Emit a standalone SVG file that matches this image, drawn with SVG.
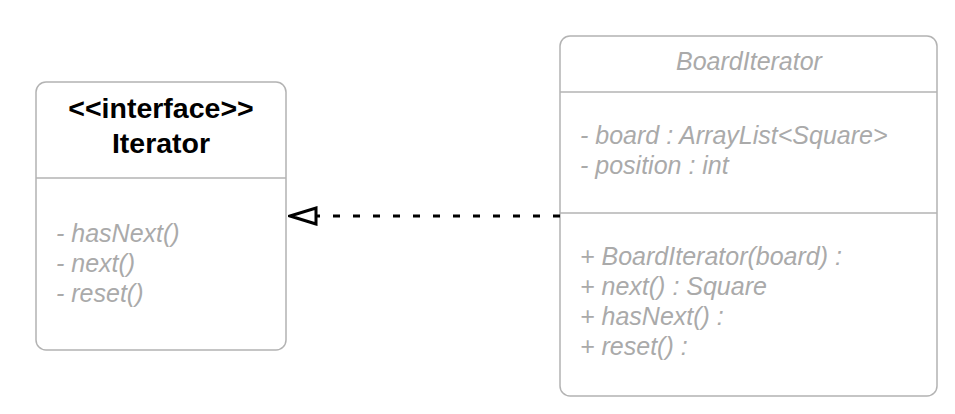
<svg xmlns="http://www.w3.org/2000/svg" width="955" height="414" viewBox="0 0 955 414">
<defs>
<style>
.box{fill:#ffffff;stroke:#b3b3b3;stroke-width:1.5}
.div{stroke:#b3b3b3;stroke-width:1.5}
.title{font-family:"Liberation Sans",Arial,sans-serif;font-size:28.5px;font-weight:bold;fill:#000000;text-anchor:middle}
.mem{font-family:"Liberation Sans",Arial,sans-serif;font-size:25px;font-style:italic;fill:#aaaaaa}
.ctitle{font-family:"Liberation Sans",Arial,sans-serif;font-size:25px;font-style:italic;fill:#aaaaaa;text-anchor:middle}
.dep{fill:none;stroke:#000000;stroke-width:3;stroke-dasharray:7 13}
</style>
<marker id="tri" viewBox="0 0 30 20" refX="2" refY="10" markerWidth="30" markerHeight="20" markerUnits="userSpaceOnUse" orient="auto">
<path d="M2,2 L28,10 L2,18 Z" fill="#ffffff" stroke="#000000" stroke-width="3"/>
</marker>
</defs>
<rect width="955" height="414" fill="#ffffff"/>
<g id="iterator">
<rect class="box" x="36" y="82" width="250" height="268" rx="10"/>
<line class="div" x1="36" y1="178" x2="286" y2="178"/>
<text class="title" x="161" y="118">&lt;&lt;interface&gt;&gt;</text>
<text class="title" x="161" y="153">Iterator</text>
<text class="mem" x="56" y="242">- hasNext()</text>
<text class="mem" x="56" y="272">- next()</text>
<text class="mem" x="56" y="302">- reset()</text>
</g>
<g id="boardIterator">
<rect class="box" x="560" y="36" width="377" height="360" rx="10"/>
<line class="div" x1="560" y1="92" x2="937" y2="92"/>
<line class="div" x1="560" y1="213" x2="937" y2="213"/>
<text class="ctitle" x="749" y="70">BoardIterator</text>
<text class="mem" x="580" y="144">- board : ArrayList&lt;Square&gt;</text>
<text class="mem" x="580" y="174">- position : int</text>
<text class="mem" x="580" y="265">+ BoardIterator(board) :</text>
<text class="mem" x="580" y="295">+ next() : Square</text>
<text class="mem" x="580" y="325">+ hasNext() :</text>
<text class="mem" x="580" y="355">+ reset() :</text>
</g>
<g id="connectors">
<line class="dep" x1="560" y1="216" x2="316" y2="216" marker-end="url(#tri)"/>
</g>
</svg>
